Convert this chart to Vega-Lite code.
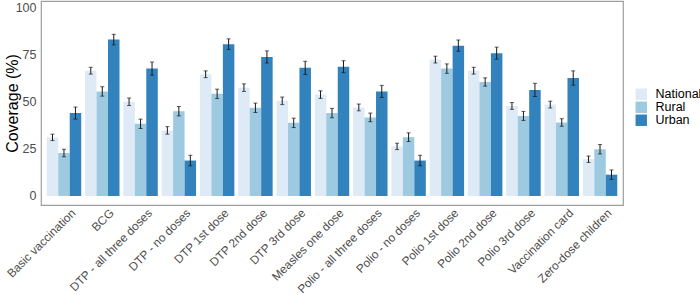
{
  "$schema": "https://vega.github.io/schema/vega-lite/v6.json",
  "width": 582,
  "height": 204,
  "autosize": {"type": "none"},
  "padding": {"left": 41, "top": 1, "right": 77, "bottom": 90},
  "background": "white",
  "config": {
    "font": "Liberation Sans",
    "view": {"stroke": "#9e9e9e", "strokeWidth": 1.2}
  },
  "data": {
    "values": [
      {"cat": "Basic vaccination", "grp": "National", "v": 31.1, "lo": 29.4, "hi": 32.8},
      {"cat": "Basic vaccination", "grp": "Rural", "v": 22.8, "lo": 20.8, "hi": 24.8},
      {"cat": "Basic vaccination", "grp": "Urban", "v": 44.0, "lo": 40.8, "hi": 47.2},
      {"cat": "BCG", "grp": "National", "v": 66.5, "lo": 64.7, "hi": 68.3},
      {"cat": "BCG", "grp": "Rural", "v": 55.5, "lo": 53.0, "hi": 58.0},
      {"cat": "BCG", "grp": "Urban", "v": 83.0, "lo": 80.2, "hi": 85.8},
      {"cat": "DTP - all three doses", "grp": "National", "v": 50.0, "lo": 48.0, "hi": 52.0},
      {"cat": "DTP - all three doses", "grp": "Rural", "v": 38.3, "lo": 35.8, "hi": 40.8},
      {"cat": "DTP - all three doses", "grp": "Urban", "v": 67.6, "lo": 64.1, "hi": 71.1},
      {"cat": "DTP - no doses", "grp": "National", "v": 34.8, "lo": 32.8, "hi": 36.8},
      {"cat": "DTP - no doses", "grp": "Rural", "v": 45.0, "lo": 42.5, "hi": 47.5},
      {"cat": "DTP - no doses", "grp": "Urban", "v": 18.8, "lo": 16.0, "hi": 21.6},
      {"cat": "DTP 1st dose", "grp": "National", "v": 64.6, "lo": 62.8, "hi": 66.4},
      {"cat": "DTP 1st dose", "grp": "Rural", "v": 54.2, "lo": 51.7, "hi": 56.7},
      {"cat": "DTP 1st dose", "grp": "Urban", "v": 80.6, "lo": 77.8, "hi": 83.4},
      {"cat": "DTP 2nd dose", "grp": "National", "v": 57.5, "lo": 55.5, "hi": 59.5},
      {"cat": "DTP 2nd dose", "grp": "Rural", "v": 46.8, "lo": 44.3, "hi": 49.3},
      {"cat": "DTP 2nd dose", "grp": "Urban", "v": 73.8, "lo": 70.6, "hi": 77.0},
      {"cat": "DTP 3rd dose", "grp": "National", "v": 50.5, "lo": 48.5, "hi": 52.5},
      {"cat": "DTP 3rd dose", "grp": "Rural", "v": 38.8, "lo": 36.3, "hi": 41.3},
      {"cat": "DTP 3rd dose", "grp": "Urban", "v": 68.0, "lo": 64.5, "hi": 71.5},
      {"cat": "Measles one dose", "grp": "National", "v": 53.8, "lo": 51.8, "hi": 55.8},
      {"cat": "Measles one dose", "grp": "Rural", "v": 44.0, "lo": 41.5, "hi": 46.5},
      {"cat": "Measles one dose", "grp": "Urban", "v": 68.6, "lo": 65.4, "hi": 71.8},
      {"cat": "Polio - all three doses", "grp": "National", "v": 47.0, "lo": 45.2, "hi": 48.8},
      {"cat": "Polio - all three doses", "grp": "Rural", "v": 41.7, "lo": 39.4, "hi": 44.0},
      {"cat": "Polio - all three doses", "grp": "Urban", "v": 55.5, "lo": 52.3, "hi": 58.7},
      {"cat": "Polio - no doses", "grp": "National", "v": 26.3, "lo": 24.6, "hi": 28.0},
      {"cat": "Polio - no doses", "grp": "Rural", "v": 31.2, "lo": 28.9, "hi": 33.5},
      {"cat": "Polio - no doses", "grp": "Urban", "v": 18.8, "lo": 16.0, "hi": 21.6},
      {"cat": "Polio 1st dose", "grp": "National", "v": 72.4, "lo": 70.6, "hi": 74.2},
      {"cat": "Polio 1st dose", "grp": "Rural", "v": 67.6, "lo": 65.1, "hi": 70.1},
      {"cat": "Polio 1st dose", "grp": "Urban", "v": 79.8, "lo": 76.8, "hi": 82.8},
      {"cat": "Polio 2nd dose", "grp": "National", "v": 66.5, "lo": 64.7, "hi": 68.3},
      {"cat": "Polio 2nd dose", "grp": "Rural", "v": 60.5, "lo": 58.3, "hi": 62.7},
      {"cat": "Polio 2nd dose", "grp": "Urban", "v": 75.8, "lo": 72.6, "hi": 79.0},
      {"cat": "Polio 3rd dose", "grp": "National", "v": 47.8, "lo": 46.0, "hi": 49.6},
      {"cat": "Polio 3rd dose", "grp": "Rural", "v": 42.5, "lo": 40.1, "hi": 44.9},
      {"cat": "Polio 3rd dose", "grp": "Urban", "v": 56.3, "lo": 52.8, "hi": 59.8},
      {"cat": "Vaccination card", "grp": "National", "v": 48.5, "lo": 46.7, "hi": 50.3},
      {"cat": "Vaccination card", "grp": "Rural", "v": 39.0, "lo": 37.0, "hi": 41.0},
      {"cat": "Vaccination card", "grp": "Urban", "v": 62.6, "lo": 58.8, "hi": 66.4},
      {"cat": "Zero-dose children", "grp": "National", "v": 19.5, "lo": 17.8, "hi": 21.2},
      {"cat": "Zero-dose children", "grp": "Rural", "v": 24.8, "lo": 22.3, "hi": 27.3},
      {"cat": "Zero-dose children", "grp": "Urban", "v": 11.3, "lo": 8.8, "hi": 13.8}
    ]
  },
  "encoding": {
    "x": {
      "field": "cat",
      "type": "nominal",
      "sort": null,
      "scale": {"paddingInner": 0.1, "paddingOuter": 0.15},
      "axis": {
        "title": null,
        "labelAngle": -45,
        "labelAlign": "right",
        "labelBaseline": "top",
        "ticks": false,
        "domain": false,
        "labelPadding": 2,
        "labelOffset": 6,
        "labelFontSize": 11.8,
        "labelColor": "#4d4d4d",
        "labelLimit": 200
      }
    },
    "xOffset": {"field": "grp", "type": "nominal", "scale": {"paddingInner": 0, "paddingOuter": 0}}
  },
  "layer": [
    {
      "mark": {"type": "bar"},
      "encoding": {
        "y": {
          "field": "v",
          "type": "quantitative",
          "scale": {"domain": [-4.8, 103.5], "nice": false, "zero": false},
          "axis": {
            "values": [0, 25, 50, 75, 100],
            "grid": false,
            "ticks": false,
            "domain": false,
            "labelPadding": 5,
            "labelFontSize": 12.5,
            "labelColor": "#4d4d4d",
            "title": "Coverage (%)",
            "titleFontSize": 16,
            "titleFontWeight": "normal",
            "titleColor": "black",
            "titleX": -21,
            "titleY": 102,
            "titleBaseline": "bottom"
          }
        },
        "y2": {"datum": 0},
        "color": {
          "field": "grp",
          "type": "nominal",
          "scale": {"domain": ["National", "Rural", "Urban"], "range": ["#deebf7", "#9ecae1", "#3182bd"]},
          "legend": {
            "title": null,
            "orient": "none",
            "legendX": 594,
            "legendY": 87,
            "symbolType": "square",
            "symbolSize": 130,
            "symbolStrokeWidth": 0,
            "symbolOpacity": 1,
            "labelFontSize": 12.5,
            "labelColor": "black",
            "labelOffset": 8,
            "rowPadding": 0
          }
        }
      }
    },
    {
      "mark": {"type": "rule", "color": "#1a1a1a", "strokeWidth": 1},
      "encoding": {
        "y": {"field": "lo", "type": "quantitative"},
        "y2": {"field": "hi"}
      }
    },
    {
      "mark": {"type": "tick", "color": "#1a1a1a", "orient": "horizontal", "size": 4, "thickness": 1},
      "encoding": {
        "y": {"field": "lo", "type": "quantitative"}
      }
    },
    {
      "mark": {"type": "tick", "color": "#1a1a1a", "orient": "horizontal", "size": 4, "thickness": 1},
      "encoding": {
        "y": {"field": "hi", "type": "quantitative"}
      }
    }
  ]
}
